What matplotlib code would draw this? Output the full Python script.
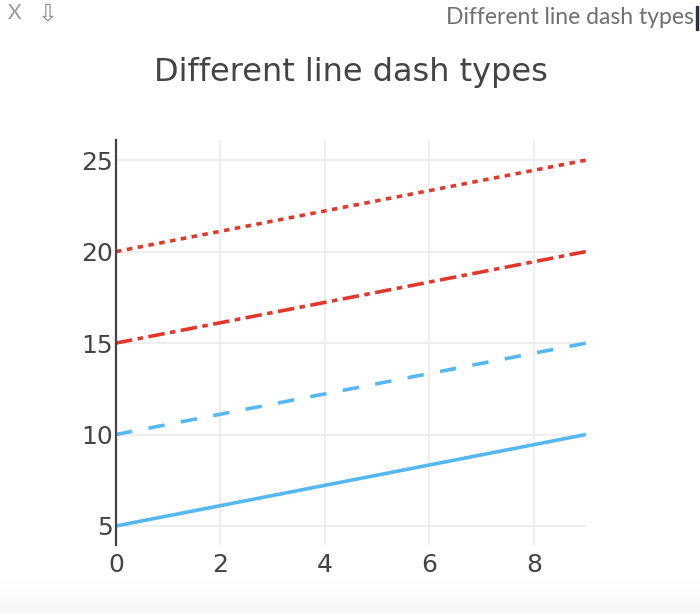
import numpy as np
import matplotlib.pyplot as plt
from matplotlib.patches import Rectangle

# Data
x = [0, 9]
solid_y = [5, 10]
dash_y = [10, 15]
dashdot_y = [15, 20]
dot_y = [20, 25]

blue = '#55b8f2'
red = '#e2382a'
x_ticks = [0, 2, 4, 6, 8]
y_ticks = [5, 10, 15, 20, 25]

plt.rcParams['lines.scale_dashes'] = False
u = 5.5 * 0.72  # dash unit in points

fig = plt.figure(figsize=(7, 6.13), dpi=100)
W, H = 700, 613
ax = fig.add_axes([116 / W, 1 - 545 / H, (586 - 116) / W, (545 - 140) / H])

lw = 2.6
ax.plot(x, solid_y, color=blue, lw=lw, solid_capstyle='butt', clip_on=False)
ax.plot(x, dash_y, color=blue, lw=lw, dashes=(3 * u, 3 * u), dash_capstyle='butt', clip_on=False)
ax.plot(x, dashdot_y, color=red, lw=lw, dashes=(3 * u, u, u, u), dash_capstyle='butt', clip_on=False)
ax.plot(x, dot_y, color=red, lw=lw, dashes=(u, u), dash_capstyle='butt', clip_on=False)

ax.set_xlim(0, 9)
ax.set_ylim(3.96, 26.1)
ax.set_xticks(x_ticks)
ax.set_yticks(y_ticks)
ax.grid(color='#ebebeb', lw=1.2)
ax.set_axisbelow(True)
for s in ['top', 'right', 'bottom']:
    ax.spines[s].set_visible(False)
ax.spines['left'].set_color('#444444')
ax.spines['left'].set_linewidth(1.6)
ax.tick_params(length=0, labelsize=18, colors='#444444')
ax.tick_params(axis='y', pad=2)
ax.tick_params(axis='x', pad=6)

fig.text(351 / W, 1 - 73 / H, 'Different line dash types', ha='center', va='center',
         fontsize=23, color='#444444')

# toolbar
fig.text(8 / W, 1 - 13 / H, 'X', ha='left', va='center', fontsize=15,
         color='#999999', family='Lato')
fig.text(38 / W, 1 - 13 / H, '\u21e9', ha='left', va='center', fontsize=17,
         color='#8a8a8a', family='DejaVu Sans')
fig.text(694 / W, 1 - 17 / H, 'Different line dash types', ha='right', va='center',
         fontsize=16.5, color='#707070', family='Lato')
fig.add_artist(Rectangle((696 / W, 1 - 30 / H), 2 / W, 24 / H, transform=fig.transFigure,
                         color='#2a3040'))

# grey strip at bottom
bg = fig.add_axes([0, 0, 1, 40 / H], zorder=-5)
grad = np.linspace(1.0, 0.965, 40).reshape(-1, 1)
bg.imshow(grad, aspect='auto', cmap='gray', vmin=0, vmax=1, extent=[0, 1, 0, 1], origin='upper')
bg.axis('off')

fig.savefig('out.png', dpi=100)
